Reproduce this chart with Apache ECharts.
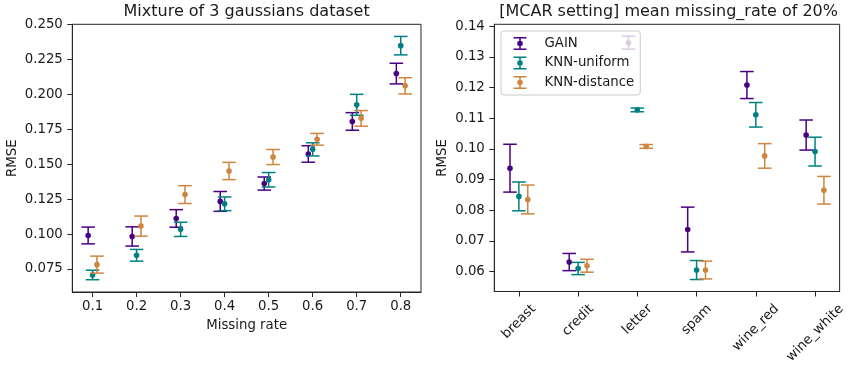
<!DOCTYPE html>
<html>
<head>
<meta charset="utf-8">
<script src="https://cdn.jsdelivr.net/npm/echarts@6/dist/echarts.min.js"></script>
<style>
  html, body { margin: 0; padding: 0; background: #fff; }
  #chart { width: 848px; height: 366px; }
</style>
</head>
<body>
<div id="chart"></div>
<script>
// left panel: mixture of 3 gaussians, RMSE vs missing rate (mean, error)
const missingRates = [0.1, 0.2, 0.3, 0.4, 0.5, 0.6, 0.7, 0.8]
const mixGainMean = [0.0990, 0.0983, 0.1112, 0.1234, 0.1362, 0.1574, 0.1807, 0.2150]
const mixGainErr = [0.0060, 0.0069, 0.0063, 0.0071, 0.0047, 0.0059, 0.0063, 0.0074]
const mixUnifMean = [0.0707, 0.0848, 0.1034, 0.1217, 0.1389, 0.1607, 0.1926, 0.2350]
const mixUnifErr = [0.0034, 0.0042, 0.0051, 0.0049, 0.0052, 0.0047, 0.0075, 0.0066]
const mixDistMean = [0.0781, 0.1057, 0.1283, 0.1452, 0.1552, 0.1679, 0.1829, 0.2062]
const mixDistErr = [0.0061, 0.0072, 0.0064, 0.0062, 0.0054, 0.0042, 0.0056, 0.0058]
const mixYTicks = [0.075, 0.1, 0.125, 0.15, 0.175, 0.2, 0.225, 0.25]

// right panel: MCAR setting, per dataset
const datasets = ['breast', 'credit', 'letter', 'spam', 'wine_red', 'wine_white']
const mcarGainMean = [0.0937, 0.0631, 0.1346, 0.0737, 0.1208, 0.1045]
const mcarGainErr = [0.0078, 0.0028, 0.0021, 0.0073, 0.0044, 0.0049]
const mcarUnifMean = [0.0845, 0.0610, 0.1127, 0.0605, 0.1111, 0.0991]
const mcarUnifErr = [0.0047, 0.0020, 0.0006, 0.0031, 0.0040, 0.0047]
const mcarDistMean = [0.0835, 0.0619, 0.1008, 0.0605, 0.0977, 0.0865]
const mcarDistErr = [0.0047, 0.0021, 0.0006, 0.0029, 0.0040, 0.0045]
const mcarYTicks = [0.06, 0.07, 0.08, 0.09, 0.10, 0.11, 0.12, 0.13, 0.14]

const methods = ['GAIN', 'KNN-uniform', 'KNN-distance']
const colors = ['#4b0082', '#008080', '#cd853f']

const FONT = 'DejaVu Sans'
const TXT = '#1a1a1a'
const FS = 13.3

// errorbar glyph for the legend
const errIcon = 'path://M0,0H130V15H0Z M0,115H130V130H0Z M57,0H73V130H57Z M65,37A28,28 0 1,1 65,93A28,28 0 1,1 65,37Z'

function zip(xs, m, e) {
  return xs.map((x, i) => [x, m[i], e[i]])
}

function errorBars(shift) {
  return function (params, api) {
    const x = api.value(0) + shift
    const y = api.value(1)
    const e = api.value(2)
    const c = api.visual('color')
    const p = api.coord([x, y])
    const t = api.coord([x, y + e])
    const b = api.coord([x, y - e])
    const cap = 6.8
    const ls = { stroke: c, lineWidth: 1.5 }
    return {
      type: 'group',
      children: [
        { type: 'line', shape: { x1: t[0], y1: t[1], x2: b[0], y2: b[1] }, style: ls },
        { type: 'line', shape: { x1: t[0] - cap, y1: t[1], x2: t[0] + cap, y2: t[1] }, style: ls },
        { type: 'line', shape: { x1: b[0] - cap, y1: b[1], x2: b[0] + cap, y2: b[1] }, style: ls },
        { type: 'circle', shape: { cx: p[0], cy: p[1], r: 2.8 }, style: { fill: c } },
      ],
    }
  }
}

function errSeries(name, idx, data, shift) {
  return {
    name,
    type: 'custom',
    xAxisIndex: idx,
    yAxisIndex: idx,
    itemStyle: { color: colors[methods.indexOf(name)] },
    renderItem: errorBars(shift),
    data,
    z: 2,
  }
}

// rotated category labels: centre each rotated box under its tick (like matplotlib ha=center)
const ctx = document.createElement('canvas').getContext('2d')
ctx.font = FS + 'px "' + FONT + '"'
const labelRich = {}
datasets.forEach((d, i) => {
  const s = 0.5 * (ctx.measureText(d).width + 15)
  labelRich['l' + i] = { fontFamily: FONT, fontSize: FS, color: TXT, padding: [s, s, 0, 0] }
})

const axisText = { color: TXT, fontFamily: FONT, fontSize: FS }
const axisLineStyle = { show: true, onZero: false, lineStyle: { color: '#262626', width: 1 } }
const tickStyle = { show: true, length: 5, lineStyle: { color: '#262626', width: 1 } }

const chart = echarts.init(document.getElementById('chart'), null, { renderer: 'canvas' })

const options = {
  backgroundColor: '#fff',
  animation: false,
  title: [
    {
      text: 'Mixture of 3 gaussians dataset',
      left: 246.6,
      top: 3.5,
      padding: 0,
      textAlign: 'center',
      textStyle: { fontFamily: FONT, fontSize: 16, fontWeight: 'normal', color: TXT },
    },
    {
      text: '[MCAR setting] mean missing_rate of 20%',
      left: 668.6,
      top: 3.5,
      padding: 0,
      textAlign: 'center',
      textStyle: { fontFamily: FONT, fontSize: 16, fontWeight: 'normal', color: TXT },
    },
  ],
  legend: {
    data: methods,
    orient: 'vertical',
    left: 501,
    top: 31,
    padding: [6, 6, 6, 12.5],
    itemGap: 6.5,
    itemWidth: 13,
    itemHeight: 13,
    icon: errIcon,
    backgroundColor: 'rgba(255,255,255,0.8)',
    borderColor: '#cccccc',
    borderWidth: 1,
    borderRadius: 3,
    textStyle: { fontFamily: FONT, fontSize: FS, color: TXT, padding: [0, 0, 0, 13] },
    z: 10,
  },
  grid: [
    { left: 72.3, top: 24.3, width: 348.7, height: 267.7, show: true, borderColor: '#262626', borderWidth: 1, backgroundColor: 'transparent' },
    { left: 494.3, top: 24.3, width: 348.7, height: 267.7, show: true, borderColor: '#262626', borderWidth: 1, backgroundColor: 'transparent' },
  ],
  xAxis: [
    {
      type: 'value',
      gridIndex: 0,
      min: 0.054,
      max: 0.846,
      name: 'Missing rate',
      nameLocation: 'middle',
      nameGap: 27,
      nameTextStyle: axisText,
      axisLine: axisLineStyle,
      axisTick: { ...tickStyle, customValues: missingRates },
      axisLabel: { ...axisText, margin: 8, customValues: missingRates, formatter: (v) => v.toFixed(1) },
      splitLine: { show: false },
    },
    {
      type: 'value',
      gridIndex: 1,
      min: -0.415,
      max: 5.415,
      axisLine: axisLineStyle,
      axisTick: { ...tickStyle, customValues: datasets.map((d, i) => i) },
      axisLabel: {
        margin: 10,
        rotate: 45,
        align: 'center',
        verticalAlign: 'middle',
        customValues: datasets.map((d, i) => i),
        formatter: (v) => '{l' + Math.round(v) + '|' + datasets[Math.round(v)] + '}',
        rich: labelRich,
      },
      splitLine: { show: false },
    },
  ],
  yAxis: [
    {
      type: 'value',
      gridIndex: 0,
      min: 0.0585,
      max: 0.2503,
      name: 'RMSE',
      nameLocation: 'middle',
      nameRotate: 90,
      nameGap: 53,
      nameTextStyle: axisText,
      axisLine: axisLineStyle,
      axisTick: { ...tickStyle, customValues: mixYTicks },
      axisLabel: { ...axisText, margin: 9.5, customValues: mixYTicks, formatter: (v) => v.toFixed(3) },
      splitLine: { show: false },
    },
    {
      type: 'value',
      gridIndex: 1,
      min: 0.0535,
      max: 0.1406,
      name: 'RMSE',
      nameLocation: 'middle',
      nameRotate: 90,
      nameGap: 45,
      nameTextStyle: axisText,
      axisLine: axisLineStyle,
      axisTick: { ...tickStyle, customValues: mcarYTicks },
      axisLabel: { ...axisText, margin: 9.5, customValues: mcarYTicks, formatter: (v) => v.toFixed(2) },
      splitLine: { show: false },
    },
  ],
  series: [
    errSeries('GAIN', 0, zip(missingRates, mixGainMean, mixGainErr), -0.01),
    errSeries('KNN-uniform', 0, zip(missingRates, mixUnifMean, mixUnifErr), 0),
    errSeries('KNN-distance', 0, zip(missingRates, mixDistMean, mixDistErr), 0.01),
    errSeries('GAIN', 1, zip(datasets.map((d, i) => i), mcarGainMean, mcarGainErr), -0.15),
    errSeries('KNN-uniform', 1, zip(datasets.map((d, i) => i), mcarUnifMean, mcarUnifErr), 0),
    errSeries('KNN-distance', 1, zip(datasets.map((d, i) => i), mcarDistMean, mcarDistErr), 0.15),
  ],
}

chart.setOption(options, true)
</script>
</body>
</html>
